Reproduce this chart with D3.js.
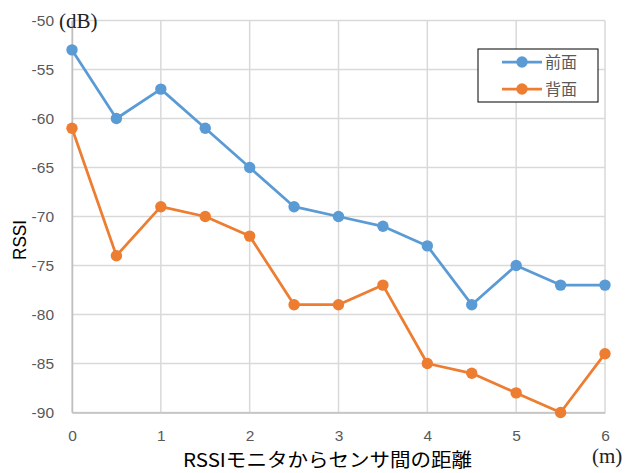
<!DOCTYPE html>
<html>
<head>
<meta charset="utf-8">
<script src="https://cdn.jsdelivr.net/npm/d3@7"></script>
<style>
  body { margin: 0; background: #fff; }
  svg { display: block; }
  .tick text { font-family: "Liberation Sans", sans-serif; font-size: 15.5px; fill: #595959; }
</style>
</head>
<body>
<svg id="chart" width="627" height="473"></svg>
<script>
var width = 627, height = 473;
var margin = { top: 20.5, right: 22, bottom: 60.5, left: 72 };

// distance (m)
var distances = [0, 0.5, 1, 1.5, 2, 2.5, 3, 3.5, 4, 4.5, 5, 5.5, 6];
// RSSI values (dB)
var frontValues = [-53, -60, -57, -61, -65, -69, -70, -71, -73, -79, -75, -77, -77];
var backValues = [-61, -74, -69, -70, -72, -79, -79, -77, -85, -86, -88, -90, -84];
var seriesNames = ["前面", "背面"];
var seriesColors = ["#5B9BD5", "#ED7D31"];
var xTicks = [0, 1, 2, 3, 4, 5, 6];
var yTicks = [-50, -55, -60, -65, -70, -75, -80, -85, -90];

var svg = d3.select("#chart");
var plotW = width - margin.left - margin.right,
  plotH = height - margin.top - margin.bottom;

var x = d3.scaleLinear().domain([0, 6]).range([margin.left, margin.left + plotW]);
var y = d3.scaleLinear().domain([-90, -50]).range([margin.top + plotH, margin.top]);

// gridlines
svg.append("g")
  .selectAll("line")
  .data(yTicks)
  .enter()
  .append("line")
  .attr("x1", margin.left)
  .attr("x2", margin.left + plotW)
  .attr("y1", function(d) { return y(d); })
  .attr("y2", function(d) { return y(d); })
  .style("stroke", "#d9d9d9")
  .style("stroke-width", 1.5);

svg.append("g")
  .selectAll("line")
  .data(xTicks)
  .enter()
  .append("line")
  .attr("x1", function(d) { return x(d); })
  .attr("x2", function(d) { return x(d); })
  .attr("y1", margin.top)
  .attr("y2", margin.top + plotH)
  .style("stroke", "#d9d9d9")
  .style("stroke-width", 1.5);

// axes (plain hyphen for minus, like the original)
var xAxis = svg.append("g")
  .attr("transform", "translate(0," + (margin.top + plotH) + ")")
  .call(d3.axisBottom(x).tickValues(xTicks).tickSize(0).tickPadding(17).tickFormat(function(d) { return String(d); }));
xAxis.select(".domain").style("stroke", "#bfbfbf").style("stroke-width", 1.5);

var yAxis = svg.append("g")
  .attr("transform", "translate(" + margin.left + ",0)")
  .call(d3.axisLeft(y).tickValues(yTicks).tickSize(0).tickPadding(18).tickFormat(function(d) { return String(d); }));
yAxis.select(".domain").style("stroke", "#bfbfbf").style("stroke-width", 1.5);

// lines and markers
var line = d3.line()
  .x(function(d) { return x(d[0]); })
  .y(function(d) { return y(d[1]); });

[frontValues, backValues].forEach(function(vals, i) {
  var pts = distances.map(function(d, j) { return [d, vals[j]]; });
  svg.append("path")
    .datum(pts)
    .attr("d", line)
    .style("fill", "none")
    .style("stroke", seriesColors[i])
    .style("stroke-width", 2.75)
    .style("stroke-linejoin", "round");
  svg.append("g")
    .selectAll("circle")
    .data(pts)
    .enter()
    .append("circle")
    .attr("cx", function(d) { return x(d[0]); })
    .attr("cy", function(d) { return y(d[1]); })
    .attr("r", 5.7)
    .style("fill", seriesColors[i]);
});

// unit labels
svg.append("text")
  .attr("x", 59)
  .attr("y", 28)
  .style("font-family", "'Liberation Serif', serif")
  .style("font-size", "21px")
  .style("fill", "#222")
  .text("(dB)");

svg.append("text")
  .attr("x", 592)
  .attr("y", 463)
  .style("font-family", "'Liberation Serif', serif")
  .style("font-size", "21px")
  .style("fill", "#222")
  .text("(m)");

// axis titles
svg.append("text")
  .attr("x", 183)
  .attr("y", 467)
  .attr("textLength", 289)
  .attr("lengthAdjust", "spacingAndGlyphs")
  .style("font-family", "'Noto Sans CJK JP', sans-serif")
  .style("font-size", "19px")
  .style("fill", "#000")
  .text("RSSIモニタからセンサ間の距離");

svg.append("text")
  .attr("transform", "translate(26,260) rotate(-90)")
  .attr("textLength", 40)
  .attr("lengthAdjust", "spacingAndGlyphs")
  .style("font-family", "'Liberation Sans', sans-serif")
  .style("font-size", "18px")
  .style("fill", "#000")
  .text("RSSI");

// legend
var legend = svg.append("g").attr("transform", "translate(478,49)");
legend.append("rect")
  .attr("width", 120)
  .attr("height", 53)
  .style("fill", "#fff")
  .style("stroke", "#000")
  .style("stroke-width", 1);

seriesNames.forEach(function(name, i) {
  var row = legend.append("g").attr("transform", "translate(0," + (13 + i * 27) + ")");
  row.append("line")
    .attr("x1", 24).attr("x2", 64)
    .style("stroke", seriesColors[i])
    .style("stroke-width", 2.75);
  row.append("circle")
    .attr("cx", 44).attr("r", 5.7)
    .style("fill", seriesColors[i]);
  row.append("text")
    .attr("x", 67)
    .attr("dy", "0.35em")
    .style("font-family", "'Noto Sans CJK JP', sans-serif")
    .style("font-size", "16px")
    .style("fill", "#595959")
    .text(name);
});
</script>
</body>
</html>
